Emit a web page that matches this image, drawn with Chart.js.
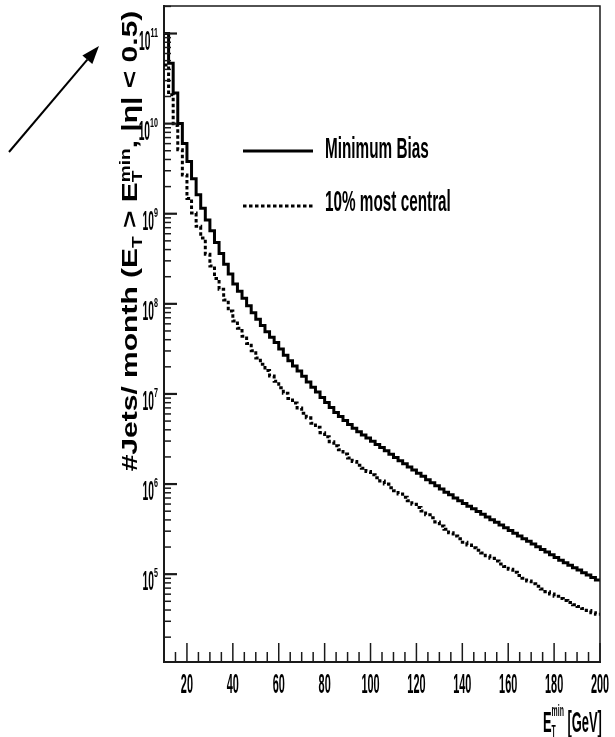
<!DOCTYPE html>
<html>
<head>
<meta charset="utf-8">
<script src="https://cdn.jsdelivr.net/npm/chart.js@4.4.1/dist/chart.umd.min.js"></script>
<style>
  html, body { margin: 0; padding: 0; background: #fff; }
  canvas { display: block; }
</style>
</head>
<body>
<canvas id="jetRates" width="615" height="737"></canvas>
<script>
// lower edge of each 2 GeV bin in E_T^min
const binLowEdges = [
  10, 12, 14, 16, 18, 20, 22, 24, 26, 28, 30, 32, 34, 36, 38, 40, 42, 44, 46, 48,
  50, 52, 54, 56, 58, 60, 62, 64, 66, 68, 70, 72, 74, 76, 78, 80, 82, 84, 86, 88,
  90, 92, 94, 96, 98, 100, 102, 104, 106, 108, 110, 112, 114, 116, 118, 120, 122, 124, 126, 128,
  130, 132, 134, 136, 138, 140, 142, 144, 146, 148, 150, 152, 154, 156, 158, 160, 162, 164, 166, 168,
  170, 172, 174, 176, 178, 180, 182, 184, 186, 188, 190, 192, 194, 196, 198,
];
const binUpperLimit = 200;

// jets per month above threshold, minimum bias
const minBiasJets = [
  1.00e11, 4.68e10, 2.19e10, 1.00e10, 6.03e9, 3.80e9, 2.45e9, 1.62e9, 1.15e9, 8.51e8,
  6.46e8, 4.79e8, 3.63e8, 2.75e8, 2.14e8, 1.66e8, 1.38e8, 1.15e8, 9.55e7, 7.94e7,
  6.76e7, 5.75e7, 4.90e7, 4.27e7, 3.72e7, 3.16e7, 2.69e7, 2.34e7, 2.04e7, 1.80e7,
  1.57e7, 1.36e7, 1.19e7, 1.05e7, 9.12e6, 8.04e6, 7.08e6, 6.24e6, 5.62e6, 5.07e6,
  4.57e6, 4.17e6, 3.80e6, 3.51e6, 3.24e6, 2.99e6, 2.75e6, 2.54e6, 2.34e6, 2.14e6,
  1.97e6, 1.82e6, 1.68e6, 1.55e6, 1.43e6, 1.32e6, 1.22e6, 1.12e6, 1.035e6, 9.55e5,
  8.81e5, 8.13e5, 7.59e5, 7.00e5, 6.53e5, 6.10e5, 5.69e5, 5.31e5, 4.95e5, 4.62e5,
  4.32e5, 4.03e5, 3.76e5, 3.51e5, 3.27e5, 3.05e5, 2.85e5, 2.66e5, 2.48e5, 2.32e5,
  2.16e5, 2.02e5, 1.88e5, 1.76e5, 1.64e5, 1.53e5, 1.43e5, 1.34e5, 1.26e5, 1.18e5,
  1.11e5, 1.04e5, 9.77e4, 9.18e4, 8.63e4,
];

// jets per month above threshold, 10% most central
const centralJets = [
  4.47e10, 2.09e10, 9.55e9, 5.13e9, 2.69e9, 1.48e9, 1.02e9, 7.24e8, 5.37e8, 3.55e8,
  2.63e8, 1.91e8, 1.45e8, 1.10e8, 8.32e7, 6.46e7, 5.37e7, 4.37e7, 3.63e7, 3.02e7,
  2.51e7, 2.14e7, 1.82e7, 1.58e7, 1.38e7, 1.17e7, 1.02e7, 8.91e6, 7.94e6, 7.00e6,
  6.10e6, 5.43e6, 4.73e6, 4.27e6, 3.72e6, 3.35e6, 2.95e6, 2.66e6, 2.40e6, 2.16e6,
  1.95e6, 1.78e6, 1.62e6, 1.50e6, 1.38e6, 1.27e6, 1.175e6, 1.08e6, 1.00e6, 9.12e5,
  8.41e5, 7.76e5, 7.16e5, 6.53e5, 5.96e5, 5.50e5, 5.01e5, 4.57e5, 4.22e5, 3.80e5,
  3.43e5, 3.16e5, 2.88e5, 2.66e5, 2.48e5, 2.26e5, 2.11e5, 1.97e5, 1.84e5, 1.72e5,
  1.60e5, 1.50e5, 1.40e5, 1.30e5, 1.22e5, 1.135e5, 1.05e5, 9.66e4, 9.02e4, 8.41e4,
  7.85e4, 7.33e4, 6.84e4, 6.38e4, 6.03e4, 5.69e4, 5.37e4, 5.11e4, 4.84e4, 4.59e4,
  4.37e4, 4.15e4, 3.94e4, 3.74e4, 3.60e4,
];

const seriesLabels = ["Minimum Bias", "10% most central"];

const xMajorTicks = [20, 40, 60, 80, 100, 120, 140, 160, 180, 200];
const xMinorTicks = [
  15, 25, 30, 35, 45, 50, 55, 65, 70, 75, 85, 90, 95, 105, 110, 115, 125, 130, 135,
  145, 150, 155, 165, 170, 175, 185, 190, 195,
];
const yDecadeTicks = [1e5, 1e6, 1e7, 1e8, 1e9, 1e10, 1e11];
const yMinorSteps = [2, 3, 4, 5, 6, 7, 8, 9];

const FONT = '"Liberation Sans", Arial, sans-serif';

// histogram outline: each bin holds its value up to the next edge
const toSteps = (values) => {
  const pts = binLowEdges.map((x, i) => ({ x, y: values[i] }));
  pts.push({ x: binUpperLimit, y: values[values.length - 1] });
  return pts;
};

// text runs laid out left to right; a "stack" puts sub- and superscript at one x
function runsLength(ctx, runs) {
  return runs.reduce((sum, run) => {
    const parts = run.stack || [run];
    let w = 0;
    parts.forEach((p) => {
      ctx.font = p.font;
      w = Math.max(w, ctx.measureText(p.text).width);
    });
    return sum + w;
  }, 0);
}

function drawRuns(ctx, runs) {
  let x = 0;
  runs.forEach((run) => {
    const parts = run.stack || [run];
    let w = 0;
    parts.forEach((p) => {
      ctx.font = p.font;
      ctx.fillText(p.text, x, p.dy || 0);
      w = Math.max(w, ctx.measureText(p.text).width);
    });
    x += w;
  });
}

// narrow text: squeezed horizontally by sx
function narrowText(ctx, text, x, y, font, sx, align) {
  ctx.save();
  ctx.font = font;
  const w = ctx.measureText(text).width * sx;
  let left = x;
  if (align === "center") left = x - w / 2;
  if (align === "right") left = x - w;
  ctx.translate(left, y);
  ctx.scale(sx, 1);
  ctx.textAlign = "left";
  ctx.textBaseline = "alphabetic";
  ctx.fillText(text, 0, 0);
  ctx.restore();
  return w;
}

const frameTicks = {
  id: "frameTicks",
  afterDraw(chart) {
    const { ctx, chartArea: a, scales: { x, y } } = chart;
    ctx.save();
    ctx.strokeStyle = "#1a1a1a";
    ctx.lineWidth = 1.5;
    ctx.beginPath();
    ctx.moveTo(a.left, a.top);
    ctx.lineTo(a.right, a.top);
    ctx.lineTo(a.right, a.bottom);
    ctx.stroke();

    const seg = (x1, y1, x2, y2, w) => {
      ctx.lineWidth = w;
      ctx.beginPath();
      ctx.moveTo(x1, y1);
      ctx.lineTo(x2, y2);
      ctx.stroke();
    };
    xMajorTicks.forEach((v) => {
      const px = x.getPixelForValue(v);
      seg(px, a.bottom, px, a.bottom - 19, 1.5);
    });
    xMinorTicks.forEach((v) => {
      const px = x.getPixelForValue(v);
      seg(px, a.bottom, px, a.bottom - 10, 1.5);
    });
    yDecadeTicks.forEach((d) => {
      const py = y.getPixelForValue(d);
      seg(a.left, py, a.left + 13, py, 2.2);
    });
    [1e4, ...yDecadeTicks].forEach((d) => {
      yMinorSteps.forEach((m) => {
        const v = d * m;
        if (v <= y.min || v >= y.max) return;
        const py = y.getPixelForValue(v);
        seg(a.left, py, a.left + 7, py, 1.5);
      });
    });
    ctx.restore();
  },
};

const axisText = {
  id: "axisText",
  afterDraw(chart) {
    const { ctx, scales: { x, y } } = chart;
    ctx.save();
    ctx.fillStyle = "#000";

    xMajorTicks.forEach((v) => {
      narrowText(ctx, String(v), x.getPixelForValue(v), 693, "bold 28px " + FONT, 0.39, "center");
    });

    yDecadeTicks.forEach((d) => {
      const py = y.getPixelForValue(d);
      const exp = String(Math.round(Math.log10(d)));
      const right = 158;
      const wExp = narrowText(ctx, exp, right, py + 3, "bold 13px " + FONT, 0.55, "right");
      narrowText(ctx, "10", right - wExp, py + 16, "bold 27px " + FONT, 0.38, "right");
    });

    // x axis title
    ctx.save();
    ctx.translate(543, 732);
    ctx.scale(0.43, 1);
    drawRuns(ctx, [
      { text: "E", font: "bold 30px " + FONT },
      { stack: [
        { text: "T", font: "bold 16px " + FONT, dy: 5 },
        { text: "min", font: "bold 16px " + FONT, dy: -16 },
      ] },
      { text: " [GeV]", font: "bold 30px " + FONT },
    ]);
    ctx.restore();

    // y axis title, rotated
    const big = "bold 30px " + FONT;
    const small = "bold 19px " + FONT;
    const titleRuns = [
      { text: "#Jets/ month (E", font: big },
      { text: "T", font: small, dy: 7 },
      { text: " > E", font: big },
      { stack: [
        { text: "T", font: small, dy: 7 },
        { text: "min", font: small, dy: -10 },
      ] },
      { text: ", |\u03b7| < 0.5)", font: big },
    ];
    const len = runsLength(ctx, titleRuns);
    ctx.save();
    ctx.translate(137, 241);
    ctx.rotate(-Math.PI / 2);
    ctx.scale(1, 0.74);
    ctx.translate(-len / 2, 0);
    drawRuns(ctx, titleRuns);
    ctx.restore();

    ctx.restore();
  },
};

const legendBox = {
  id: "legendBox",
  afterDraw(chart) {
    const { ctx } = chart;
    const rows = [{ line: 151, text: 158 }, { line: 206, text: 211 }];
    ctx.save();
    chart.data.datasets.forEach((ds, i) => {
      ctx.strokeStyle = ds.borderColor;
      ctx.lineWidth = ds.borderWidth;
      ctx.setLineDash(ds.borderDash || []);
      ctx.beginPath();
      ctx.moveTo(243, rows[i].line);
      ctx.lineTo(313, rows[i].line);
      ctx.stroke();
      ctx.setLineDash([]);
      ctx.fillStyle = "#000";
      narrowText(ctx, ds.label, 325, rows[i].text, "bold 30px " + FONT, 0.51, "left");
    });
    ctx.restore();
  },
};

// pointer arrow in the upper left corner
const cornerArrow = {
  id: "cornerArrow",
  afterDraw(chart) {
    const { ctx } = chart;
    const from = { x: 9, y: 152 };
    const tip = { x: 99, y: 46 };
    const dx = tip.x - from.x;
    const dy = tip.y - from.y;
    const L = Math.hypot(dx, dy);
    const ux = dx / L;
    const uy = dy / L;
    const head = 18;
    const half = 6.5;
    const bx = tip.x - ux * head;
    const by = tip.y - uy * head;
    ctx.save();
    ctx.strokeStyle = "#000";
    ctx.fillStyle = "#000";
    ctx.lineWidth = 2;
    ctx.beginPath();
    ctx.moveTo(from.x, from.y);
    ctx.lineTo(bx, by);
    ctx.stroke();
    ctx.beginPath();
    ctx.moveTo(tip.x, tip.y);
    ctx.lineTo(bx - uy * half, by + ux * half);
    ctx.lineTo(bx + uy * half, by - ux * half);
    ctx.closePath();
    ctx.fill();
    ctx.restore();
  },
};

new Chart(document.getElementById("jetRates"), {
  type: "line",
  data: {
    datasets: [
      {
        label: seriesLabels[0],
        data: toSteps(minBiasJets),
        borderColor: "#000",
        borderWidth: 3,
        stepped: true,
        pointRadius: 0,
        fill: false,
      },
      {
        label: seriesLabels[1],
        data: toSteps(centralJets),
        borderColor: "#000",
        borderWidth: 3,
        borderDash: [3.5, 2.5],
        stepped: true,
        pointRadius: 0,
        fill: false,
      },
    ],
  },
  options: {
    responsive: false,
    animation: false,
    events: [],
    layout: { padding: { top: 6, right: 15, bottom: 0, left: 0 } },
    plugins: {
      legend: { display: false },
      tooltip: { enabled: false },
      title: { display: false },
    },
    scales: {
      x: {
        type: "linear",
        min: 10,
        max: 200,
        bounds: "data",
        grid: { display: false },
        ticks: { display: false },
        border: { display: true, color: "#1a1a1a", width: 2 },
        afterFit: (scale) => { scale.height = 75; },
      },
      y: {
        type: "logarithmic",
        min: 1.06e4,
        max: 2.02e11,
        bounds: "data",
        grid: { display: false },
        ticks: { display: false },
        border: { display: true, color: "#1a1a1a", width: 2 },
        afterFit: (scale) => { scale.width = 164; },
      },
    },
  },
  plugins: [frameTicks, axisText, legendBox, cornerArrow],
});
</script>
</body>
</html>
